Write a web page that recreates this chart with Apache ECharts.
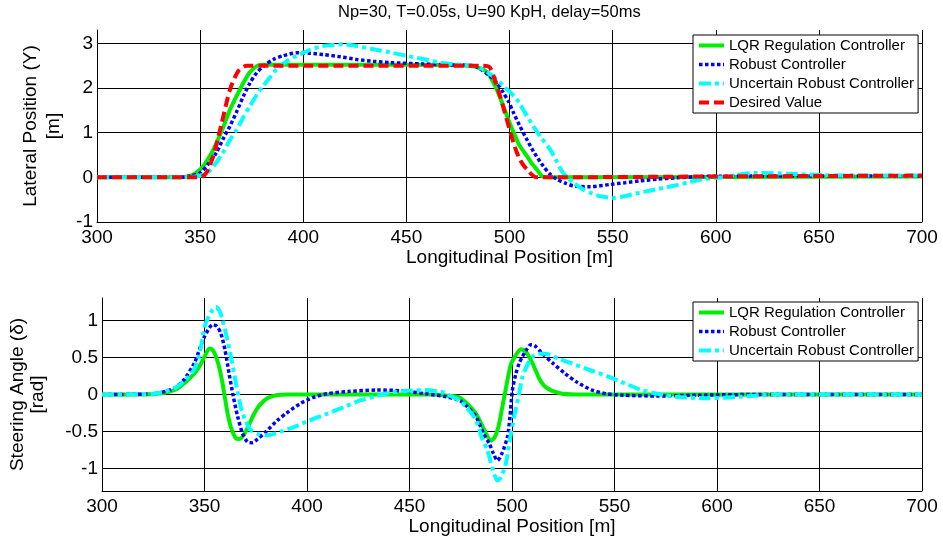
<!DOCTYPE html>
<html>
<head>
<meta charset="utf-8">
<script src="https://cdn.jsdelivr.net/npm/echarts@6/dist/echarts.min.js"></script>
<style>
html,body{margin:0;padding:0;background:#fff;}
#chart{width:943px;height:538px;}
</style>
</head>
<body>
<div id="chart"></div>
<script>
// ---------- DATA ----------
const titleText = 'Np=30, T=0.05s, U=90 KpH, delay=50ms';
const seriesNames = ['LQR Regulation Controller', 'Robust Controller', 'Uncertain Robust Controller', 'Desired Value'];
const xTicks = [300, 350, 400, 450, 500, 550, 600, 650, 700];
const yTicksTop = [-1, 0, 1, 2, 3];
const yTicksBottom = [-1, -0.5, 0, 0.5, 1];

// Top panel: lateral position [m] vs longitudinal position [m]
const lqrPos = [[300,0],[340,0],[345,0.03],[348,0.1],[351.5,0.25],[355,0.5],[358,0.78],[361,1.1],[364.5,1.52],[368,1.85],[371,2.12],[374,2.35],[377.4,2.49],[380,2.52],[450,2.52],[480,2.5],[487.3,2.42],[490,2.3],[493.8,1.97],[497,1.6],[500.2,1.2],[503,0.9],[505,0.7],[508.4,0.48],[511,0.3],[513.2,0.18],[516,0.02],[520,0],[700,0.02]];
const robustPos = [[300,0],[340,0],[345,0.03],[350,0.1],[354,0.3],[358,0.56],[361,0.85],[364.5,1.15],[368,1.5],[371,1.82],[374,2.1],[377.4,2.34],[381,2.5],[385.5,2.64],[390,2.72],[396.8,2.79],[403,2.78],[409.7,2.75],[418,2.7],[425.9,2.64],[434,2.6],[442,2.57],[458,2.54],[470,2.52],[482.3,2.5],[486,2.42],[490.5,2.27],[494,2.1],[497,1.9],[499.5,1.7],[501.9,1.45],[505,1.15],[508.4,0.85],[512,0.55],[516.4,0.25],[519.5,0.08],[522.9,-0.04],[527,-0.13],[531,-0.19],[539,-0.21],[548.7,-0.16],[556,-0.12],[563.3,-0.08],[572,-0.04],[581,-0.01],[595,0.02],[620,0.03],[700,0.03]];
const uncertainPos = [[300,0],[345,0],[349,0.03],[353,0.08],[357,0.28],[361,0.55],[364,0.8],[367.7,1.07],[371,1.35],[374.2,1.6],[377.5,1.85],[380.6,2.05],[384,2.25],[387,2.42],[391,2.57],[396.8,2.72],[403,2.85],[409.7,2.94],[419.4,2.98],[426,2.94],[434,2.87],[442,2.8],[450.2,2.72],[458,2.65],[466.3,2.57],[474,2.53],[482.3,2.5],[488,2.4],[493.8,2.19],[497,2.05],[500,1.92],[503.5,1.75],[507.5,1.45],[511.5,1.15],[515.5,0.88],[519.6,0.63],[523,0.35],[526,0.1],[531,-0.12],[535.8,-0.27],[540,-0.36],[543.9,-0.42],[550.3,-0.46],[556,-0.42],[563.3,-0.34],[571,-0.27],[579.5,-0.19],[587,-0.11],[594,-0.04],[603,0],[611,0.06],[619.8,0.1],[636,0.08],[652,0.05],[670,0.04],[700,0.04]];
const desiredPos = [[300,0],[350,0],[353,0.1],[356.4,0.48],[360.4,1.2],[364.5,1.97],[368.5,2.38],[372.6,2.5],[487,2.5],[490.5,2.46],[495.4,1.82],[501.9,0.78],[505,0.4],[508.4,0.18],[513.2,0],[600,0.02],[700,0.04]];

// Bottom panel: steering angle [rad] vs longitudinal position [m]
const lqrSteer = [[300,0],[320,0],[330,0.02],[335.4,0.06],[340,0.15],[345,0.28],[348,0.4],[350,0.51],[352.4,0.62],[354,0.6],[355.6,0.51],[357.3,0.35],[358.8,0.15],[360,-0.05],[361.3,-0.26],[363,-0.45],[365.3,-0.59],[367,-0.6],[368.5,-0.57],[371,-0.45],[374.2,-0.26],[377,-0.14],[380.6,-0.05],[385,-0.01],[390.3,0],[460,0],[470,-0.02],[474.4,-0.04],[478,-0.12],[482.5,-0.26],[486,-0.45],[489.7,-0.62],[491.5,-0.58],[493.5,-0.42],[495.4,-0.15],[497,0.08],[499.4,0.4],[501.9,0.53],[504.3,0.61],[506.7,0.58],[510,0.42],[513.2,0.22],[516.4,0.1],[522.9,0.02],[531,0],[700,0]];
const robustSteer = [[300,0],[325,0.01],[335,0.08],[340,0.2],[345,0.42],[350,0.78],[354,0.94],[356,0.92],[358,0.82],[360,0.6],[362,0.28],[364,-0.02],[366.2,-0.3],[368.5,-0.52],[371,-0.64],[373.5,-0.65],[375.8,-0.6],[380,-0.5],[385.5,-0.35],[390,-0.25],[396.8,-0.12],[403,-0.04],[409.7,0.01],[420,0.04],[434,0.06],[446,0.05],[458,0.01],[468,-0.03],[474.4,-0.08],[478,-0.16],[482.5,-0.3],[486,-0.52],[488.9,-0.66],[491,-0.8],[492.9,-0.89],[495,-0.8],[497.8,-0.57],[499,-0.3],[500.2,0.06],[501.9,0.28],[503.5,0.42],[505.1,0.51],[507,0.6],[509.1,0.67],[511,0.66],[514.8,0.55],[520,0.42],[526,0.28],[532,0.16],[539,0.06],[546,0.01],[554,-0.01],[571,-0.02],[590,-0.01],[620,0],[700,0]];
const uncertainSteer = [[300,0],[325,0.01],[335,0.08],[340,0.18],[345,0.34],[348,0.6],[350,0.91],[353,1.1],[355.6,1.18],[357.5,1.12],[358.8,1.0],[360.8,0.78],[362.9,0.51],[365,0.2],[367.7,-0.17],[370,-0.35],[372.6,-0.48],[376,-0.53],[380.6,-0.55],[387,-0.5],[393.6,-0.44],[401,-0.35],[409.7,-0.26],[418,-0.17],[425.9,-0.08],[434,-0.02],[442,0.03],[450,0.05],[458,0.06],[466.3,0.03],[470,-0.02],[474.4,-0.08],[478,-0.18],[482.5,-0.35],[485.5,-0.6],[488,-0.75],[490.5,-1.0],[492.9,-1.16],[494.5,-1.12],[497,-0.93],[499,-0.6],[501,-0.3],[503,-0.05],[505.1,0.24],[507.5,0.4],[510,0.51],[513,0.55],[516.4,0.55],[523,0.48],[531,0.4],[539,0.32],[547,0.24],[555,0.15],[563.3,0.06],[571,0.01],[579.5,-0.03],[595.6,-0.05],[611.8,-0.03],[628,0],[700,0]];

// ---------- STYLES ----------
const FONT = '"Liberation Sans", Arial, Helvetica, sans-serif';
const styles = [
  {color: '#00ee00', width: 4, type: 'solid'},
  {color: '#0000ff', width: 3.5, type: [3.5, 2.5]},
  {color: '#00ffff', width: 4, type: [12, 4, 4, 4]},
  {color: '#ff0000', width: 4, type: [10, 5]}
];

function xAxisFor(gridIndex) {
  return {
    type: 'value', gridIndex: gridIndex, min: 300, max: 700, interval: 50,
    name: 'Longitudinal Position [m]', nameLocation: 'middle',
    nameGap: gridIndex === 0 ? 23 : 21,
    nameTextStyle: {fontFamily: FONT, fontSize: 19, color: '#000'},
    axisLine: {show: true, onZero: false, lineStyle: {color: '#000', width: 1}},
    axisTick: {show: true, inside: true, length: 5, lineStyle: {color: '#000'}},
    axisLabel: {fontFamily: FONT, fontSize: 19, color: '#000', margin: 6},
    splitLine: {show: true, lineStyle: {color: '#000', width: 1}}
  };
}

function makeSeries(name, data, idx, axisIdx, z) {
  const s = styles[idx];
  return {
    name: name, type: 'line', xAxisIndex: axisIdx, yAxisIndex: axisIdx,
    data: data, showSymbol: false, symbol: 'none', smooth: 0.25,
    z: z, animation: false,
    lineStyle: {color: s.color, width: s.width, type: s.type, cap: 'butt'},
    itemStyle: {color: s.color}
  };
}

function legendItems(count) {
  return seriesNames.slice(0, count).map(function (n, i) {
    const s = styles[i];
    return {name: n, lineStyle: {width: s.width, type: s.type, color: s.color}, itemStyle: {opacity: 0}};
  });
}

const legendCommon = {
  orient: 'vertical', left: 693, itemWidth: 25, itemHeight: 14, itemGap: 4,
  padding: [3, 4, 3, 4], backgroundColor: '#fff', borderColor: '#000', borderWidth: 1,
  borderRadius: 0,
  itemStyle: {opacity: 0},
  textStyle: {fontFamily: FONT, fontSize: 15, color: '#000'},
  selectedMode: false
};

const chart = echarts.init(document.getElementById('chart'), null, {renderer: 'canvas'});
chart.setOption({
  animation: false,
  backgroundColor: '#fff',
  title: {
    text: titleText, left: 338, top: 4, padding: 0,
    textStyle: {fontFamily: FONT, fontSize: 16.5, fontWeight: 'normal', color: '#000'}
  },
  grid: [
    {left: 97, right: 21, top: 30, height: 192, containLabel: false},
    {left: 97, right: 21, top: 298, height: 193, containLabel: false}
  ],
  legend: [
    Object.assign({}, legendCommon, {top: 35, data: legendItems(4)}),
    Object.assign({}, legendCommon, {top: 302, data: legendItems(3)})
  ],
  xAxis: [xAxisFor(0), xAxisFor(1)],
  yAxis: [
    {
      type: 'value', gridIndex: 0, min: -1, max: 3.3, interval: 1,
      name: 'Lateral Position (Y)\n[m]', nameLocation: 'middle', nameGap: 23, nameRotate: 90,
      nameTextStyle: {fontFamily: FONT, fontSize: 19, color: '#000', lineHeight: 23},
      axisLine: {show: true, onZero: false, lineStyle: {color: '#000'}},
      axisTick: {show: true, inside: true, length: 5, lineStyle: {color: '#000'}},
      axisLabel: {fontFamily: FONT, fontSize: 19, color: '#000', margin: 4, showMaxLabel: false},
      splitLine: {show: true, showMaxLine: false, lineStyle: {color: '#000', width: 1}}
    },
    {
      type: 'value', gridIndex: 1, min: -1.3, max: 1.3,
      name: 'Steering Angle (\u03b4)\n[rad]', nameLocation: 'middle', nameGap: 54, nameRotate: 90,
      nameTextStyle: {fontFamily: FONT, fontSize: 19, color: '#000', lineHeight: 20},
      axisLine: {show: true, onZero: false, lineStyle: {color: '#000'}},
      axisTick: {show: true, inside: true, length: 5, lineStyle: {color: '#000'}, customValues: yTicksBottom},
      axisLabel: {fontFamily: FONT, fontSize: 19, color: '#000', margin: 4, customValues: yTicksBottom},
      splitLine: {show: true, lineStyle: {color: '#000', width: 1}}
    }
  ],
  series: [
    makeSeries(seriesNames[0], lqrPos, 0, 0, 2),
    makeSeries(seriesNames[1], robustPos, 1, 0, 3),
    makeSeries(seriesNames[2], uncertainPos, 2, 0, 4),
    makeSeries(seriesNames[3], desiredPos, 3, 0, 5),
    makeSeries(seriesNames[0], lqrSteer, 0, 1, 2),
    makeSeries(seriesNames[1], robustSteer, 1, 1, 3),
    makeSeries(seriesNames[2], uncertainSteer, 2, 1, 4)
  ]
});
</script>
</body>
</html>
